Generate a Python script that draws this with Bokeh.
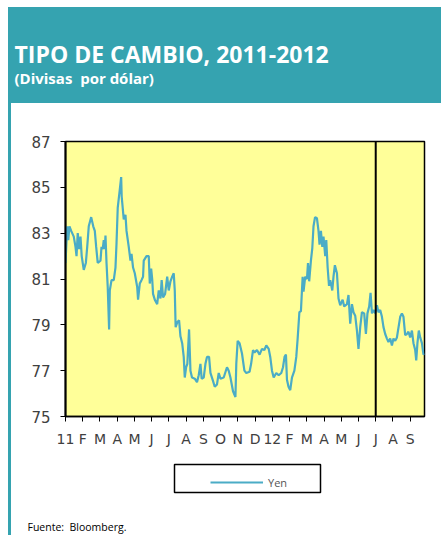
from bokeh.plotting import figure
from bokeh.models import Range1d, FixedTicker, Span, Legend, LegendItem, Label, BoxAnnotation
from bokeh.layouts import column
from bokeh.embed import file_html
from bokeh.resources import INLINE

# ---- data ----
# x: months elapsed since 1 Jan 2011; y: yen per dollar
months = [0, 0.10, 0.16, 0.23, 0.33, 0.48, 0.58, 0.64, 0.71, 0.79, 0.87, 0.94,
          1.06, 1.18, 1.26, 1.35, 1.49, 1.61, 1.70, 1.78, 1.87,
          2.03, 2.09, 2.16, 2.22, 2.28, 2.32, 2.38, 2.45, 2.53, 2.57, 2.67, 2.80, 2.90, 2.96,
          3.03, 3.15, 3.23, 3.26, 3.38, 3.48, 3.54, 3.67, 3.77, 3.83, 3.92,
          4.02, 4.16, 4.21, 4.31, 4.41, 4.50, 4.54, 4.70, 4.83, 4.89, 4.97,
          5.03, 5.08, 5.18, 5.32, 5.41, 5.51, 5.58, 5.66, 5.78, 5.90, 5.99,
          6.09, 6.19, 6.28, 6.34, 6.39, 6.48, 6.59, 6.67, 6.77, 6.86, 6.92,
          7.00, 7.07, 7.17, 7.25, 7.34, 7.50, 7.63, 7.73, 7.83, 7.90,
          8.02, 8.12, 8.21, 8.33, 8.41, 8.54, 8.66, 8.79, 8.89, 8.99,
          9.18, 9.37, 9.47, 9.57, 9.72, 9.86, 9.91, 9.99,
          10.10, 10.24, 10.38, 10.49, 10.68, 10.77, 10.88, 10.97,
          11.11, 11.26, 11.40, 11.54, 11.65, 11.79, 11.88, 11.98,
          12.08, 12.23, 12.37, 12.52, 12.62, 12.71, 12.79, 12.85, 12.94,
          13.04, 13.14, 13.28, 13.39, 13.47, 13.57, 13.66, 13.76, 13.81, 13.91,
          14.01, 14.07, 14.14, 14.24, 14.32, 14.39, 14.48, 14.59, 14.68, 14.74, 14.82, 14.90, 14.97,
          15.07, 15.13, 15.21, 15.29, 15.36, 15.48, 15.55, 15.63, 15.75, 15.84, 15.94,
          16.08, 16.17, 16.33, 16.42, 16.52, 16.62, 16.71, 16.81, 16.91,
          17.00, 17.10, 17.20, 17.33, 17.43, 17.52, 17.62, 17.70, 17.78, 17.87, 17.97,
          18.07, 18.16, 18.26, 18.36, 18.45, 18.55, 18.65, 18.74, 18.84, 18.94,
          19.03, 19.13, 19.23, 19.42, 19.52, 19.61, 19.71, 19.81, 19.90,
          20.00, 20.10, 20.19, 20.29, 20.35, 20.42, 20.50, 20.58, 20.68, 20.77, 20.83]

yen = [81.7, 83.3, 82.7, 83.3, 83.1, 82.85, 82.4, 82.0, 83.0, 82.3, 82.85, 82.0,
       81.4, 81.7, 82.4, 83.3, 83.7, 83.3, 83.1, 82.4, 81.7,
       81.8, 82.4, 82.3, 82.7, 82.3, 82.9, 81.7, 80.65, 78.8, 80.5, 80.95, 80.95, 81.5, 82.55,
       84.1, 84.9, 85.45, 84.6, 83.6, 83.8, 83.1, 82.4, 81.8, 82.1, 81.5,
       81.25, 80.65, 80.1, 80.8, 80.95, 81.1, 81.8, 82.0, 82.0, 80.8, 81.45,
       81.0, 80.35, 80.1, 79.9, 80.5, 80.15, 80.95, 80.2, 80.35, 81.1, 80.5,
       80.9, 81.1, 81.25, 80.5, 78.9, 79.1, 79.2, 78.5, 78.2, 77.6, 76.7,
       77.15, 77.3, 78.8, 77.0, 76.7, 76.65, 76.5, 76.8, 77.3, 76.65,
       76.7, 77.3, 77.6, 77.6, 76.9, 76.6, 76.3, 76.4, 76.9, 76.65,
       76.7, 77.15, 77.0, 76.7, 76.1, 75.85, 77.3, 78.3,
       78.2, 77.75, 77.0, 76.9, 76.95, 77.3, 77.9, 77.8,
       77.9, 77.7, 77.95, 77.9, 78.1, 77.95, 77.6, 77.0,
       76.7, 76.9, 76.8, 76.9, 77.15, 77.6, 77.7, 76.6, 76.3,
       76.15, 76.7, 77.0, 77.6, 78.4, 79.55, 79.6, 81.1, 80.45, 81.1,
       81.0, 81.7, 80.9, 81.8, 82.35, 83.3, 83.7, 83.65, 83.1, 82.5, 83.1, 82.4, 82.85,
       82.0, 82.7, 81.5, 80.7, 80.95, 80.5, 81.1, 81.6, 81.25, 80.15, 79.85,
       80.1, 79.8, 79.9, 80.3, 79.05, 79.9, 79.55, 79.4, 78.75,
       77.95, 78.9, 79.55, 79.5, 78.6, 79.5, 79.8, 80.4, 79.5, 79.65, 79.5,
       79.85, 79.55, 79.65, 79.35, 78.9, 78.6, 78.4, 78.25, 78.4, 78.1,
       78.4, 78.3, 78.45, 79.35, 79.5, 79.35, 78.55, 78.6, 78.7,
       78.45, 78.75, 78.2, 77.9, 77.45, 78.2, 78.75, 78.45, 78.2, 77.7, 77.75]

month_ticks = list(range(21))
month_labels = ["11", "F", "M", "A", "M", "J", "J", "A", "S", "O", "N", "D",
                "12", "F", "M", "A", "M", "J", "J", "A", "S"]
y_ticks = [75, 77, 79, 81, 83, 85, 87]
marker_month = 18  # July 2012 vertical line

TEAL = "#35A3B0"
LINE = "#4BACC6"
YELLOW = "#FFFF99"
TXT = "#404040"

STRIP_BG = "linear-gradient(%s, %s) 8px 0px / 3px 100%% no-repeat, white" % (TEAL, TEAL)
HEAD_BG = "linear-gradient(%s, %s) 8px 7px / 433px 96px no-repeat, white" % (TEAL, TEAL)


def bare(width, height, bg):
    f = figure(width=width, height=height, x_range=Range1d(0, 1), y_range=Range1d(0, 1),
               x_axis_location=None, y_axis_location=None, min_border=0,
               output_backend="svg", toolbar_location=None, styles={"background": bg})
    f.frame_align = False
    f.grid.visible = False
    f.background_fill_alpha = 0
    f.border_fill_alpha = 0
    f.outline_line_color = None
    return f


# ---- header band ----
header = bare(441, 103, HEAD_BG)
header.add_layout(Label(x=14, y=50, x_units="screen", y_units="screen",
                        text="TIPO DE CAMBIO, 2011-2012", text_color="white",
                        text_font="Open Sans", text_font_style="bold", text_font_size="23px",
                        text_baseline="alphabetic"))
header.add_layout(Label(x=14, y=26, x_units="screen", y_units="screen",
                        text="(Divisas\u00a0 por dólar)", text_color="white",
                        text_font="Open Sans", text_font_style="bold", text_font_size="15px",
                        text_baseline="alphabetic"))

# ---- main chart ----
p = figure(width=441, height=349, x_range=Range1d(0, 20.83), y_range=Range1d(75, 87),
           min_border_left=65, min_border_right=17, min_border_top=38, min_border_bottom=36,
           output_backend="svg", toolbar_location=None, styles={"background": STRIP_BG})
p.frame_align = False
p.background_fill_color = YELLOW
p.border_fill_alpha = 0
p.outline_line_color = "black"
p.outline_line_width = 1.5
p.grid.visible = False

r = p.line(months, yen, line_color=LINE, line_width=2.2)

p.add_layout(Span(location=marker_month, dimension="height", line_color="black", line_width=2))

p.yaxis.ticker = FixedTicker(ticks=y_ticks)
p.yaxis.minor_tick_line_color = None
p.yaxis.major_tick_in = 0
p.yaxis.major_tick_out = 5
p.yaxis.axis_line_width = 2
p.yaxis.major_label_standoff = 10
p.yaxis.major_label_text_font = "DejaVu Sans"
p.yaxis.major_label_text_font_size = "15px"
p.yaxis.major_label_text_color = TXT

p.xaxis.ticker = FixedTicker(ticks=month_ticks)
p.xaxis.major_label_overrides = {t: l for t, l in zip(month_ticks, month_labels)}
p.xaxis.minor_tick_line_color = None
p.xaxis.major_tick_in = 0
p.xaxis.major_tick_out = 5
p.xaxis.axis_line_width = 1.5
p.xaxis.major_label_standoff = 9
p.xaxis.major_label_text_font = "DejaVu Sans"
p.xaxis.major_label_text_font_size = "14px"
p.xaxis.major_label_text_color = TXT

# ---- legend and source note ----
foot = bare(441, 83, STRIP_BG)
foot.add_layout(BoxAnnotation(left=174, right=320, bottom=43, top=71,
                              left_units="screen", right_units="screen",
                              bottom_units="screen", top_units="screen",
                              fill_color="white", fill_alpha=1,
                              line_color="black", line_alpha=1, line_width=1.5))
# legend key: same styling as the series (its single point lies outside this panel's range)
key = foot.line(months[:1], yen[:1], line_color=LINE, line_width=2.2)
legend = Legend(items=[LegendItem(label="Yen", renderers=[key])], location=(210, 43),
                orientation="horizontal", padding=4, glyph_width=53, glyph_height=20,
                label_width=20, label_height=20, label_standoff=5, margin=0,
                border_line_color=None, background_fill_alpha=0,
                label_text_font="Open Sans", label_text_font_size="11px",
                label_text_color="#555555")
foot.add_layout(legend, "center")
foot.add_layout(Label(x=27, y=9, x_units="screen", y_units="screen",
                      text="Fuente:\u00a0 Bloomberg.", text_color="black",
                      text_font="Open Sans", text_font_size="10.5px",
                      text_baseline="alphabetic"))

layout = column(header, p, foot)

open("out.html", "w").write(file_html(layout, INLINE))
